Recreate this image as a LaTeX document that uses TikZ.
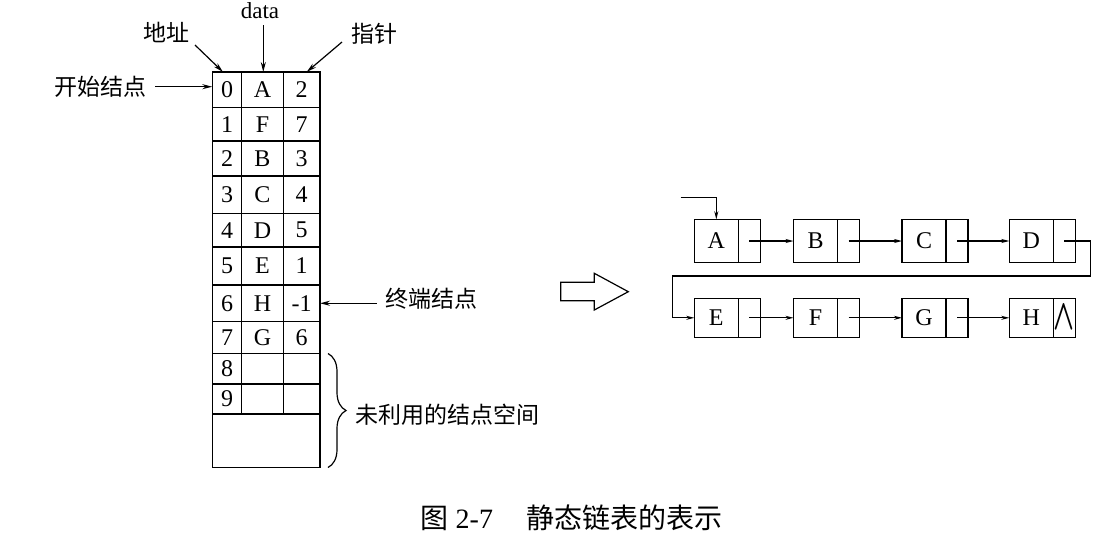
\documentclass[tikz,border=0pt]{standalone}
\usepackage{fontspec}
\usepackage{graphicx}
\setmainfont{Liberation Serif}
\newfontfamily\cjk{Noto Sans CJK SC}
\usetikzlibrary{arrows.meta,decorations.pathreplacing}
\tikzset{
  cell/.style={draw, line width=1.3pt, inner sep=0pt, outer sep=0pt, anchor=north west, font=\fontsize{24}{24}\selectfont},
  lbl/.style={font=\cjk\fontsize{23}{23}\selectfont, inner sep=0pt},
  larr/.style={line width=1.2pt, -{Stealth[length=10pt,width=5pt]}},
  arr/.style={line width=1.2pt, -{Stealth[length=8pt,width=4pt]}},
  dbox/.style={draw, line width=1.3pt, inner sep=0pt, outer sep=0pt, anchor=north west, minimum width=44pt, font=\fontsize{24}{24}\selectfont},
  pbox/.style={draw, line width=1.3pt, inner sep=0pt, outer sep=0pt, anchor=north west, minimum width=22pt},
}
\begin{document}
\begin{tikzpicture}[x=1pt,y=-1pt]
\useasboundingbox (0,0) rectangle (1120,550);
% ---- table ----
\foreach \r/\t/\h/\d/\p in {0/72/35.5/A/2, 1/107.5/33.5/F/7, 2/141/35/B/3, 3/176/37.5/C/4, 4/213.5/33.5/D/5, 5/247/38/E/1, 6/285/36.5/H/-1, 7/321.5/32/G/6, 8/353.5/30.5/ / , 9/384/30/ / }{
  \node[cell, minimum width=29.4pt, minimum height=\h pt] (adr\r) at (212.3,\t) {\r};
  \node[cell, minimum width=41.6pt, minimum height=\h pt] (dat\r) at (adr\r.north east) {\d};
  \node[cell, minimum width=36.7pt, minimum height=\h pt] (ptr\r) at (dat\r.north east) {\p};
}
\node[cell, minimum width=107.7pt, minimum height=53.5pt] (free) at (212.3,414) {};
% ---- labels around the table ----
\node[lbl] (dizhi) at (166,32) {地址};
\node[font=\fontsize{23}{23}\selectfont, inner sep=0pt, anchor=base] (datalbl) at (260,18) {data};
\node[lbl] (zhizhen) at (374,34) {指针};
\node[lbl] (kaishi) at (100.5,86.7) {开始结点};
\node[lbl] (zhongduan) at (431.7,299) {终端结点};
\node[lbl, anchor=west] (weiliyong) at (355,415) {未利用的结点空间};
\coordinate (dz) at (195,45);
\coordinate (dt) at (263.3,25);
\coordinate (zz) at (342,42);
\draw[larr] (dz) -- ([xshift=-4pt]adr0.north);
\draw[larr] (dt) -- (dt |- dat0.north);
\draw[larr] (zz) -- ([xshift=5pt]ptr0.north);
\draw[larr, shorten <=8.5pt] (kaishi.east) -- (kaishi.east -| adr0.west);
\draw[larr, shorten <=9pt] (zhongduan.west |- ptr6.east) -- (ptr6.east);
\draw[line width=1.2pt, decorate, decoration={brace, amplitude=18pt}]
  ([xshift=8pt]ptr8.north east) -- ([xshift=8pt]free.south east);
% ---- hollow arrow ----
\draw[line width=1.2pt] (560.7,282.3) -- (594.3,282.3) -- (594.3,273.3) -- (628.3,291.7)
  -- (594.3,310) -- (594.3,300.7) -- (560.7,300.7) -- cycle;
% ---- linked list ----
\foreach \n/\x in {A/694.3, B/793.5, C/902, D/1009.3}{
  \node[dbox, minimum height=43.4pt] (\n) at (\x,219.3) {\n};
  \node[pbox, minimum height=43.4pt] (\n p) at (\n.north east) {};
}
\foreach \n/\x in {E/694.3, F/793.5, G/902, H/1009.3}{
  \node[dbox, minimum height=39pt] (\n) at (\x,298.3) {\n};
}
\foreach \n in {E,F,G}{
  \node[pbox, minimum height=39pt] (\n p) at (\n.north east) {};
}
\node[pbox, minimum height=39pt] (Hp) at (H.north east) {\resizebox{21pt}{24pt}{\boldmath$\wedge$}};
\draw[arr] (Ap.center) -- (B.west);
\draw[arr] (Bp.center) -- (C.west);
\draw[arr] (Cp.center) -- (D.west);
\draw[arr] (Ep.center) -- (F.west);
\draw[arr] (Fp.center) -- (G.west);
\draw[arr] (Gp.center) -- (H.west);
\coordinate (start) at (680.7,197.7);
\draw[arr] (start) -| (A.north);
\coordinate (r1) at (1090.8,276);
\coordinate (l1) at (672.3,276);
\draw[arr] (Dp.center) -| (r1) -- (l1) |- (E.west);
% ---- caption ----
\node[anchor=west, inner sep=0pt, font=\fontsize{28}{28}\selectfont] (cap) at (420.5,518)
  {{\cjk 图} 2-7\hspace{33pt}{\cjk 静态链表的表示}};
\end{tikzpicture}
\end{document}
